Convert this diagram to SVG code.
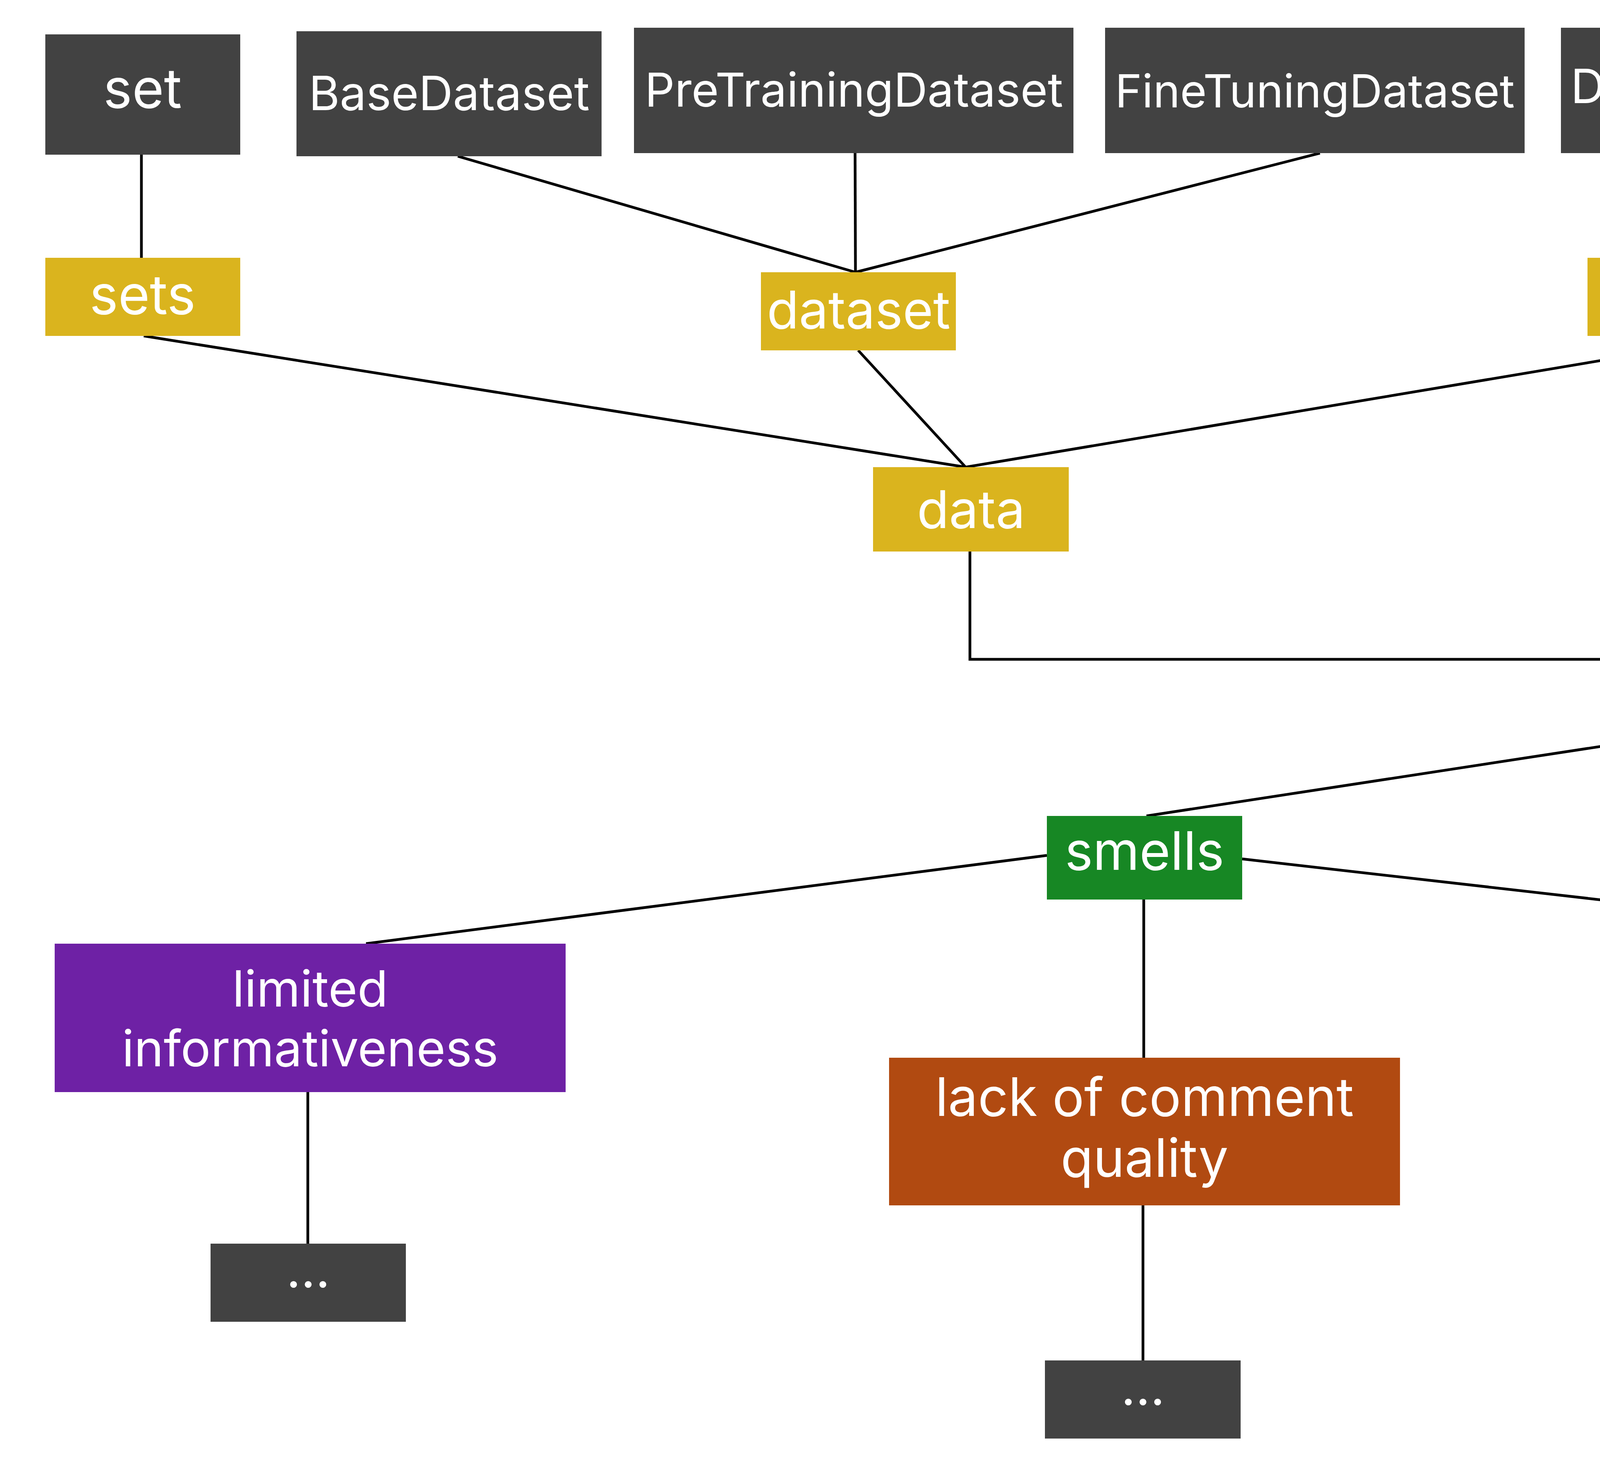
<svg xmlns="http://www.w3.org/2000/svg" width="7776" height="3784" viewBox="0 0 7776 3784">
<style>
.dk{fill:#424242}
.yl{fill:#DAB41E}
.bl{fill:#1F53DB}
.rd{fill:#B51213}
.gr{fill:#178724}
.pu{fill:#6E21A5}
.or{fill:#B14A11}
text{font-family:Inter,"Noto Sans","Liberation Sans",sans-serif;fill:#ffffff;text-anchor:middle}
.c line,.c polyline{stroke:#000000;stroke-width:7;fill:none}
</style>
<rect width="7776" height="3784" fill="#ffffff"/>
<g class="c" id="connectors">
<line x1="362" y1="396" x2="362" y2="660"/>
<line x1="1172" y1="400" x2="2190" y2="697"/>
<line x1="2189" y1="392" x2="2190" y2="697"/>
<line x1="3379" y1="392" x2="2190" y2="697"/>
<line x1="4492" y1="392" x2="4492" y2="660"/>
<line x1="368" y1="860" x2="2472" y2="1196"/>
<line x1="2197" y1="897" x2="2472" y2="1196"/>
<line x1="4474" y1="860" x2="2472" y2="1196"/>
<polyline points="2483,1412 2483,1688 4572,1688"/>
<polyline points="5256,1699 6575,1695 6575,1419"/>
<line x1="6575" y1="1419" x2="7172" y2="1684"/>
<line x1="6575" y1="867" x2="6575" y2="1204"/>
<line x1="6219" y1="417" x2="6600" y2="668"/>
<line x1="7040" y1="417" x2="6600" y2="668"/>
<line x1="4882" y1="1791" x2="2935" y2="2089"/>
<line x1="937" y1="2416" x2="2680" y2="2190"/>
<line x1="3180" y1="2199" x2="5081" y2="2416"/>
<line x1="2928" y1="2303" x2="2928" y2="2708"/>
<line x1="2926" y1="3086" x2="2926" y2="3483"/>
<line x1="788" y1="2796" x2="788" y2="3184"/>
<line x1="5063" y1="2796" x2="5063" y2="3184"/>
</g>
<g id="set"><rect class="dk" x="116" y="88" width="499" height="308"/><text x="365" y="276" font-size="140">set</text></g>
<g id="BaseDataset"><rect class="dk" x="759" y="80" width="781" height="320"/><text x="1150" y="282" font-size="121">BaseDataset</text></g>
<g id="PreTrainingDataset"><rect class="dk" x="1623" y="71" width="1125" height="321"/><text x="2186" y="273" font-size="120">PreTrainingDataset</text></g>
<g id="FineTuningDataset"><rect class="dk" x="2829" y="71" width="1074" height="321"/><text x="3366" y="275" font-size="117">FineTuningDataset</text></g>
<g id="DatasetConverter"><rect class="dk" x="3996" y="71" width="1056" height="321"/><text x="4524" y="264" font-size="121">DatasetConverter</text></g>
<g id="csv-conversion"><rect class="dk" x="5668" y="96" width="876" height="321"/><text x="6106" y="211" font-size="118">csv</text><text x="6106" y="358" font-size="118">conversion</text></g>
<g id="nld-comparison"><rect class="dk" x="6767" y="96" width="878" height="321"/><text x="7206" y="221" font-size="118">nld</text><text x="7206" y="367" font-size="118">comparison</text></g>
<g id="sets"><rect class="yl" x="116" y="660" width="499" height="200"/><text x="365" y="804" font-size="139">sets</text></g>
<g id="dataset"><rect class="yl" x="1948" y="697" width="499" height="200"/><text x="2198" y="841" font-size="134">dataset</text></g>
<g id="conversion"><rect class="yl" x="4064" y="660" width="852" height="200"/><text x="4490" y="803" font-size="126">conversion</text></g>
<g id="data"><rect class="yl" x="2235" y="1196" width="501" height="216"/><text x="2486" y="1352" font-size="134">data</text></g>
<g id="other"><rect class="bl" x="6248" y="668" width="661" height="199"/><text x="6579" y="806" font-size="132">other</text></g>
<g id="examples"><rect class="bl" x="6243" y="1204" width="652" height="215"/><text x="6569" y="1359" font-size="128">examples</text></g>
<g id="usage"><rect class="dk" x="6845" y="1684" width="658" height="199"/><text x="7174" y="1812" font-size="127">usage</text></g>
<g id="analyzer"><rect class="rd" x="4572" y="1576" width="684" height="215"/><text x="4914" y="1716" font-size="134">analyzer</text></g>
<g id="smells"><rect class="gr" x="2680" y="2089" width="500" height="214"/><text x="2930" y="2227" font-size="136">smells</text></g>
<g id="limited-informativeness"><rect class="pu" x="140" y="2416" width="1308" height="380"/><text x="794" y="2577" font-size="128">limited</text><text x="794" y="2730" font-size="128">informativeness</text></g>
<g id="lack-of-comment-quality"><rect class="or" x="2276" y="2708" width="1308" height="378"/><text x="2930" y="2857" font-size="136">lack of comment</text><text x="2930" y="3013" font-size="136">quality</text></g>
<g id="near-duplicated-instances"><rect class="pu" x="4411" y="2416" width="1309" height="380"/><text x="5066" y="2569" font-size="128">near duplicated</text><text x="5066" y="2730" font-size="128">instances</text></g>
<g id="limited-more"><rect class="dk" x="539" y="3184" width="500" height="200"/><text x="789" y="3296" font-size="130">...</text></g>
<g id="lack-more"><rect class="dk" x="2675" y="3483" width="501" height="200"/><text x="2926" y="3597" font-size="130">...</text></g>
<g id="near-more"><rect class="dk" x="4815" y="3184" width="501" height="200"/><text x="5066" y="3296" font-size="130">...</text></g>
</svg>
